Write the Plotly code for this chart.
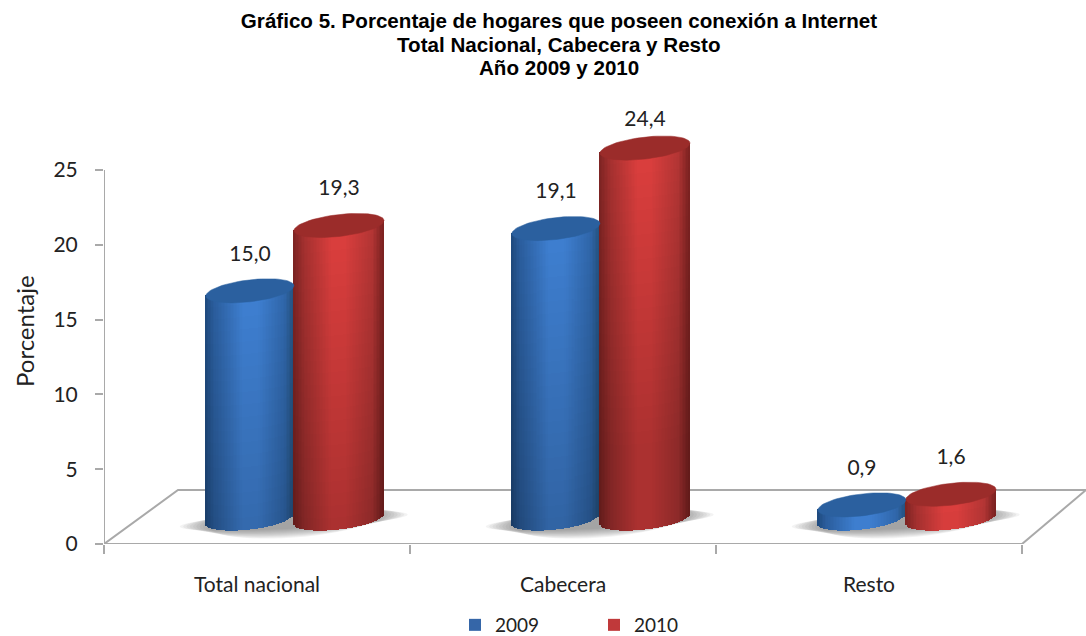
import math
import plotly.graph_objects as go

categories = ["Total nacional", "Cabecera", "Resto"]
years = ["2009", "2010"]
values_2009 = [15.0, 19.1, 0.9]
values_2010 = [19.3, 24.4, 1.6]
y_ticks = [0, 5, 10, 15, 20, 25]
title_lines = ["Gráfico 5. Porcentaje de hogares que poseen conexión a Internet",
               "Total Nacional, Cabecera y Resto", "Año 2009 y 2010"]

W, H = 1086, 636
L, B, T = 104, 92, 105
PX_X = 306.0      # pixels per category slot
PX_Y = 14.96      # pixels per percent
FLOOR_BASE = 1.7  # front-to-back depth offset of the cylinders, in percent
HEIGHT_K = 1.015  # perspective stretch
E = 11.0          # ellipse half height, px
S = 5.0           # ellipse tilt, px
TXT = "#222222"


def hex2rgb(h):
    return [int(h[i:i + 2], 16) for i in (1, 3, 5)]


def ramp(stops, t, fade):
    for (t0, c0), (t1, c1) in zip(stops, stops[1:]):
        if t <= t1:
            f = (t - t0) / (t1 - t0)
            c = [(a + (b - a) * f) * fade for a, b in zip(hex2rgb(c0), hex2rgb(c1))]
            return "rgb(%d,%d,%d)" % tuple(c)
    return stops[-1][1]


style = {
    "2009": dict(solid="#3566a8", cap="#2b609f", offset=0.477, half=44.0,
                 stops=[(-1, "#1f4a7e"), (-0.8, "#2b5e9e"), (-0.15, "#3f80d2"),
                        (0.2, "#3f80d2"), (0.8, "#3067ab"), (1, "#25527f")]),
    "2010": dict(solid="#c0393a", cap="#9b2c2a", offset=0.768, half=45.0,
                 stops=[(-1, "#7e2423"), (-0.75, "#a63130"), (-0.15, "#dc3f3e"),
                        (0.15, "#dc3f3e"), (0.75, "#b53635"), (1, "#7c2221")]),
}

fig = go.Figure()
series = {"2009": values_2009, "2010": values_2010}

caps = []
for year in years:
    st = style[year]
    vals = series[year]
    xs = [i + st["offset"] for i in range(len(categories))]
    fig.add_trace(go.Bar(name=year, x=xs, y=[v * HEIGHT_K for v in vals],
                         base=[FLOOR_BASE] * len(vals), width=0.19,
                         marker=dict(color=st["solid"], line=dict(width=0)),
                         hoverinfo="skip"))
    sx, sy, sb, sw, sc = [], [], [], [], []
    a = st["half"]
    cols = int(2 * a / 1.5)
    dx = 2 * a / cols
    for xc, v in zip(xs, vals):
        h_px = v * HEIGHT_K * PX_Y
        for c in range(cols):
            u = -1 + (c + 0.5) * 2 / cols
            low = FLOOR_BASE * PX_Y - E * math.sqrt(1 - u * u) + S * u
            up = FLOOR_BASE * PX_Y + h_px + S * u
            rows = max(1, int((up - low) / 12))
            rh = (up - low) / rows
            for r in range(rows):
                y0 = low + r * rh
                d = up - (y0 + rh / 2)
                fade = 1 - 0.22 * min(1.0, d / 300.0)
                sx.append(xc + u * a / PX_X)
                sy.append((rh + 0.6) / PX_Y)
                sb.append(y0 / PX_Y)
                sw.append(dx * 1.1 / PX_X)
                sc.append(ramp(st["stops"], u, fade))
    fig.add_trace(go.Bar(x=sx, y=sy, base=sb, width=sw, showlegend=False,
                         marker=dict(color=sc, line=dict(width=0)), hoverinfo="skip"))
    for xc, v in zip(xs, vals):
        tx, ty = [], []
        for k in range(73):
            t = 2 * math.pi * k / 72
            tx.append(xc + a * math.cos(t) / PX_X)
            ty.append(FLOOR_BASE + v * HEIGHT_K + (E * math.sin(t) + S * math.cos(t)) / PX_Y)
        caps.append(go.Scatter(x=tx, y=ty, mode="lines", fill="toself", fillcolor=st["cap"],
                               line=dict(width=0.5, color=st["cap"]), showlegend=False,
                               hoverinfo="skip"))
for c in caps:
    fig.add_traces(c)

# data labels
for year in years:
    st = style[year]
    vals = series[year]
    xs = [i + st["offset"] for i in range(len(categories))]
    gaps = [27 if v > 24 else 35.5 for v in vals]
    fig.add_trace(go.Scatter(
        x=xs, y=[FLOOR_BASE + v * HEIGHT_K + g / PX_Y for v, g in zip(vals, gaps)],
        mode="text", text=[f"{v:.1f}".replace(".", ",") for v in vals],
        textposition="middle center", textfont=dict(family="Lato", size=21, color=TXT),
        showlegend=False, hoverinfo="skip"))

GREY = "#a9a9a9"
shapes = []
FLOOR_DEPTH = 54 / PX_Y
FLOOR_SKEW = 74 / PX_X
x_end = (W - L) / PX_X
# floor outline
shapes.append(dict(type="path", layer="below", xref="x", yref="y",
                   path=f"M 0 0 L {FLOOR_SKEW} {FLOOR_DEPTH} L {x_end} {FLOOR_DEPTH}",
                   line=dict(color=GREY, width=2)))
shapes.append(dict(type="line", layer="below", xref="x", yref="y", x0=3, x1=x_end,
                   y0=0, y1=FLOOR_DEPTH * (x_end - 3) * PX_X / 64,
                   line=dict(color=GREY, width=2)))
shapes.append(dict(type="line", layer="below", xref="x", yref="y", x0=0, x1=3, y0=0, y1=0,
                   line=dict(color=GREY, width=2)))
shapes.append(dict(type="line", layer="below", xref="x", yref="y", x0=0, x1=0, y0=0, y1=25,
                   line=dict(color=GREY, width=2)))
# soft shadows on the floor
for i in range(3):
    cx = i + 0.62
    for j in range(10):
        f = j / 9
        a = (114 - 30 * f) / PX_X
        b = (8 + 9 * f) / PX_Y
        cy = FLOOR_BASE - 2.0 / PX_Y
        pts = []
        for k in range(49):
            t = 2 * math.pi * k / 48
            pts.append((cx + a * math.cos(t), cy + b * math.sin(t) + 6 * math.cos(t) / PX_Y))
        path = "M " + " L ".join(f"{p[0]:.4f} {p[1]:.4f}" for p in pts) + " Z"
        shapes.append(dict(type="path", layer="below", xref="x", yref="y", path=path,
                           fillcolor="rgba(90,90,90,0.07)", line=dict(width=0)))


def py(p):
    """Paper y of a pixel row measured from the top of the page."""
    return (H - B - p) / (H - B - T)


TITLE_FONT = dict(family="Liberation Sans", size=20.6, color="black", weight="bold")
annotations = [
    dict(text=title_lines[1], xref="paper", yref="paper", x=(559 - L) / (W - L), y=py(44.5),
         xanchor="center", yanchor="middle", showarrow=False, font=TITLE_FONT),
    dict(text=title_lines[2], xref="paper", yref="paper", x=(559 - L) / (W - L), y=py(68),
         xanchor="center", yanchor="middle", showarrow=False, font=TITLE_FONT),
    dict(text="Porcentaje", xref="paper", yref="paper", x=(24 - L) / (W - L), y=py(331),
         xanchor="center", yanchor="middle", showarrow=False, textangle=-90,
         font=dict(family="Lato", size=24, color=TXT)),
]

fig.update_layout(
    width=W, height=H, autosize=False,
    margin=dict(l=L, r=0, t=T, b=B, pad=0),
    paper_bgcolor="white", plot_bgcolor="white",
    barmode="overlay", bargap=0,
    shapes=shapes, annotations=annotations,
    title=dict(text=title_lines[0], x=559 / W, xanchor="center", y=1 - 21 / H, yanchor="middle",
               font=TITLE_FONT),
    xaxis=dict(range=[0, x_end], tickmode="array", tickvals=[0.5, 1.5, 2.5], ticktext=categories,
               ticks="", showgrid=False, zeroline=False, showline=False,
               ticklabelstandoff=26,
               tickfont=dict(family="Lato", size=21, color=TXT),
               minor=dict(tickmode="array", tickvals=[0, 1, 2, 3], ticks="outside", ticklen=9,
                          tickcolor=GREY, tickwidth=2, showgrid=False)),
    yaxis=dict(range=[0, (H - B - T) / PX_Y], tickmode="array", tickvals=y_ticks,
               ticks="outside", ticklen=8, tickcolor=GREY, tickwidth=2,
               showgrid=False, zeroline=False, showline=False, ticklabelstandoff=13,
               tickfont=dict(family="Lato", size=21, color=TXT)),
    legend=dict(orientation="h", xref="container", yref="container", x=455 / W, y=1 - 606 / H,
                xanchor="left", yanchor="top", entrywidth=94, entrywidthmode="pixels",
                font=dict(family="Lato", size=19, color=TXT), itemclick=False,
                itemdoubleclick=False),
)

fig.write_html("out.html", config=dict(displayModeBar=False),
               post_script="document.body.style.margin='0';")
